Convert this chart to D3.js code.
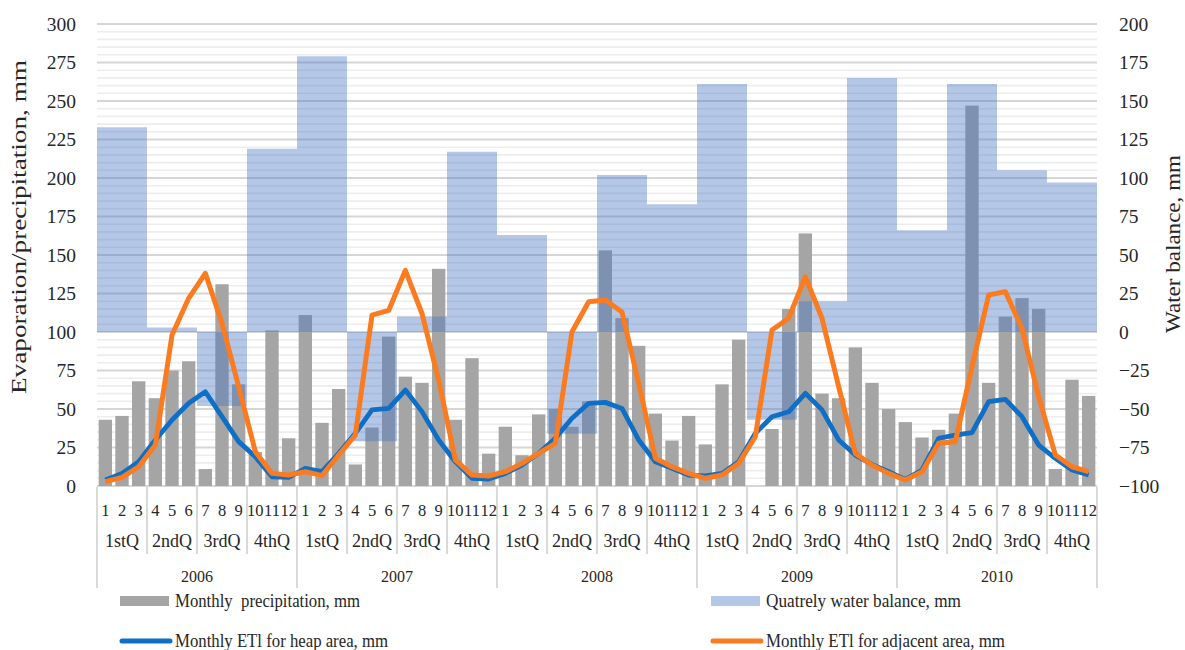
<!DOCTYPE html>
<html>
<head>
<meta charset="utf-8">
<script src="https://cdn.jsdelivr.net/npm/d3@7"></script>
<style>
  html, body { margin: 0; padding: 0; background: #fff; }
  svg { display: block; font-family: "Liberation Serif", "Times New Roman", serif; }
</style>
</head>
<body>
<svg id="chart" width="1185" height="650"></svg>
<script>
// Years and month / quarter labels of the category axis
const years = ["2006", "2007", "2008", "2009", "2010"];
const monthLabels = ["1","2","3","4","5","6","7","8","9","10","11","12"];
const quarterLabels = ["1stQ", "2ndQ", "3rdQ", "4thQ"];

// Monthly precipitation, mm (left axis)
const precipitation = [
  43, 45.5, 68, 57, 75, 81, 11, 131, 66, 22, 101, 31,
  111, 41, 63, 14, 38, 97, 71, 67, 141, 43, 83, 21,
  38.5, 20, 46.5, 50, 38.5, 55, 153, 109, 91, 47, 29.5, 45.5,
  27, 66, 95, 0, 37, 115, 164, 60, 57, 90, 67, 50,
  41.5, 31.5, 36.5, 47, 247, 67, 110, 122, 115, 11, 69, 58.5
];

// Quarterly water balance, mm (right axis)
const waterBalance = [
  133, 3, -48, 119,
  179, -71, 10, 117,
  63, -66, 102, 83,
  161, -57, 20, 165,
  66, 161, 105, 97
];

// Monthly ETl for heap area, mm
const etlHeap = [
  3.9, 8.2, 15.8, 29.9, 42.9, 53.7, 61.2, 45, 28.8, 19, 6, 5.6,
  11.5, 9.3, 21.2, 34.2, 49.4, 50.4, 62.3, 48.3, 29.9, 15.8, 5, 4.5,
  8.2, 13.6, 21.2, 31, 44, 53.7, 54.3, 50.4, 29.9, 15.8, 11.5, 7.1,
  6.5, 8.2, 15.8, 34.2, 45, 48.2, 60.2, 49.4, 29.9, 20.1, 14, 9.3,
  4.3, 10.4, 31, 33.1, 34.6, 54.8, 56.3, 45, 26.6, 18, 10.4, 7.1
];

// Monthly ETl for adjacent area, mm
const etlAdjacent = [
  2.8, 5.6, 12.5, 26.6, 98, 121.9, 138.1, 105.6, 64.5, 22.3, 8.2, 7.1,
  9.3, 6.7, 20.1, 33.1, 111, 114, 140, 112, 68.8, 16.9, 7.1, 6.5,
  9.3, 14.7, 21.2, 27.7, 100.2, 119.7, 120.8, 113, 66.7, 18, 12.5, 8.2,
  5, 7.1, 14.7, 32, 101.3, 108.9, 135.9, 108.9, 64.5, 21.2, 13.6, 8.2,
  3.9, 9.3, 27.7, 28.8, 77.5, 124, 126.2, 102.4, 58, 20.1, 12.5, 9.3
];

const leftTicks = d3.range(0, 301, 25);
const rightTicks = d3.range(-100, 201, 25);

const svg = d3.select("#chart");
const plot = { left: 97, right: 1097, top: 24, bottom: 486 };
const nMonths = precipitation.length;
const idx = d3.range(nMonths);

// Month slots (no padding) and bars (padded inside each slot)
const xSlot = d3.scaleBand().domain(idx).range([plot.left, plot.right]);
const xBar = d3.scaleBand().domain(idx).range([plot.left, plot.right])
  .paddingInner(0.2).paddingOuter(0.1);
const cx = i => xSlot(i) + xSlot.bandwidth() / 2;

const yL = d3.scaleLinear().domain([0, 300]).range([plot.bottom, plot.top]);
const yR = d3.scaleLinear().domain([-100, 200]).range([plot.bottom, plot.top]);

const textColor = "#262626";

// Gridlines: minor every 5 mm, major every 25 mm
const g = svg.append("g");
g.selectAll("line.minor")
  .data(d3.range(0, 301, 5).filter(v => v % 25 !== 0))
  .join("line")
  .attr("x1", plot.left).attr("x2", plot.right)
  .attr("y1", d => yL(d)).attr("y2", d => yL(d))
  .attr("stroke", "#ededed").attr("stroke-width", 1.6);
g.selectAll("line.major")
  .data(leftTicks)
  .join("line")
  .attr("x1", plot.left).attr("x2", plot.right)
  .attr("y1", d => yL(d)).attr("y2", d => yL(d))
  .attr("stroke", "#d6d6d6").attr("stroke-width", 1.8);

// Precipitation bars
svg.append("g").selectAll("rect")
  .data(precipitation)
  .join("rect")
  .attr("x", (d, i) => xBar(i))
  .attr("width", xBar.bandwidth())
  .attr("y", d => yL(d))
  .attr("height", d => yL(0) - yL(d))
  .attr("fill", "#a5a5a5");

// Quarterly water balance as a stepped translucent area
const stepPts = [];
waterBalance.forEach((v, q) => {
  stepPts.push({ x: xSlot(q * 3), v });
  stepPts.push({ x: xSlot(q * 3 + 2) + xSlot.bandwidth(), v });
});
const area = d3.area()
  .x(d => d.x)
  .y0(yR(0))
  .y1(d => yR(d.v));
svg.append("path")
  .attr("d", area(stepPts))
  .attr("fill", "#4472c4")
  .attr("fill-opacity", 0.4);

// ETl lines
const line = d3.line().x((d, i) => cx(i)).y(d => yL(d));
svg.append("path")
  .attr("d", line(etlHeap))
  .attr("fill", "none")
  .attr("stroke", "#0f6fc6")
  .attr("stroke-width", 4.8)
  .attr("stroke-linejoin", "round");
svg.append("path")
  .attr("d", line(etlAdjacent))
  .attr("fill", "none")
  .attr("stroke", "#fb7b20")
  .attr("stroke-width", 5)
  .attr("stroke-linejoin", "round");

// Left and right value axes
const axL = svg.append("g")
  .attr("transform", `translate(${plot.left - 21},0)`)
  .call(d3.axisLeft(yL).tickValues(leftTicks).tickSize(0).tickPadding(0));
const axR = svg.append("g")
  .attr("transform", `translate(${plot.right + 22},0)`)
  .call(d3.axisRight(yR).tickValues(rightTicks).tickSize(0).tickPadding(0));
[axL, axR].forEach(ax => {
  ax.select(".domain").remove();
  ax.selectAll("text")
    .attr("font-family", "Liberation Serif, serif")
    .attr("font-size", 19.5)
    .attr("fill", textColor);
});

// Category axis: month, quarter and year rows with separators
const xa = svg.append("g");
const sepColor = "#d9d9d9";
for (let q = 0; q <= nMonths / 3; q++) {
  const xb = q < nMonths / 3 ? xSlot(q * 3) : plot.right;
  const isYear = q % 4 === 0;
  xa.append("line")
    .attr("x1", xb).attr("x2", xb)
    .attr("y1", plot.bottom + 1)
    .attr("y2", isYear ? 588 : 554)
    .attr("stroke", sepColor).attr("stroke-width", 2);
}
xa.selectAll("text.month")
  .data(idx)
  .join("text")
  .attr("x", i => cx(i))
  .attr("y", 516)
  .attr("text-anchor", "middle")
  .attr("font-size", 16.5)
  .attr("fill", textColor)
  .text(i => monthLabels[i % 12]);
xa.selectAll("text.quarter")
  .data(d3.range(nMonths / 3))
  .join("text")
  .attr("x", q => cx(q * 3 + 1))
  .attr("y", 547)
  .attr("text-anchor", "middle")
  .attr("font-size", 18)
  .attr("fill", textColor)
  .text(q => quarterLabels[q % 4]);
xa.selectAll("text.year")
  .data(years)
  .join("text")
  .attr("x", (d, k) => (xSlot(k * 12) + xSlot(k * 12 + 11) + xSlot.bandwidth()) / 2)
  .attr("y", 582)
  .attr("text-anchor", "middle")
  .attr("font-size", 16)
  .attr("fill", textColor)
  .text(d => d);

// Axis titles
svg.append("text")
  .attr("transform", "translate(26,227) rotate(-90)")
  .attr("text-anchor", "middle")
  .attr("font-size", 21.5)
  .attr("textLength", 334)
  .attr("lengthAdjust", "spacingAndGlyphs")
  .attr("fill", textColor)
  .text("Evaporation/precipitation, mm");
svg.append("text")
  .attr("transform", "translate(1180,244) rotate(-90)")
  .attr("text-anchor", "middle")
  .attr("font-size", 21.5)
  .attr("textLength", 178)
  .attr("lengthAdjust", "spacingAndGlyphs")
  .attr("fill", textColor)
  .text("Water balance, mm");

// Legend
const legend = svg.append("g").attr("font-size", 18.5).attr("fill", textColor);
const items = [
  { x: 120, y: 601, type: "rect", color: "#a5a5a5", label: "Monthly  precipitation, mm", w: 185 },
  { x: 711, y: 601, type: "rect", color: "#b4c7e7", label: "Quatrely water balance, mm", w: 195 },
  { x: 120, y: 641, type: "line", color: "#0f6fc6", label: "Monthly ETl for heap area, mm", w: 213 },
  { x: 711, y: 641, type: "line", color: "#fb7b20", label: "Monthly ETl for adjacent area, mm", w: 239 }
];
items.forEach(it => {
  if (it.type === "rect") {
    legend.append("rect")
      .attr("x", it.x).attr("y", it.y - 5)
      .attr("width", 49).attr("height", 10)
      .attr("fill", it.color);
  } else {
    legend.append("line")
      .attr("x1", it.x + 2).attr("x2", it.x + 50)
      .attr("y1", it.y).attr("y2", it.y)
      .attr("stroke", it.color).attr("stroke-width", 5)
      .attr("stroke-linecap", "round");
  }
  legend.append("text")
    .attr("x", it.x + 55)
    .attr("y", it.y + 6)
    .attr("xml:space", "preserve")
    .style("white-space", "pre")
    .attr("textLength", it.w)
    .attr("lengthAdjust", "spacingAndGlyphs")
    .text(it.label);
});
</script>
</body>
</html>
